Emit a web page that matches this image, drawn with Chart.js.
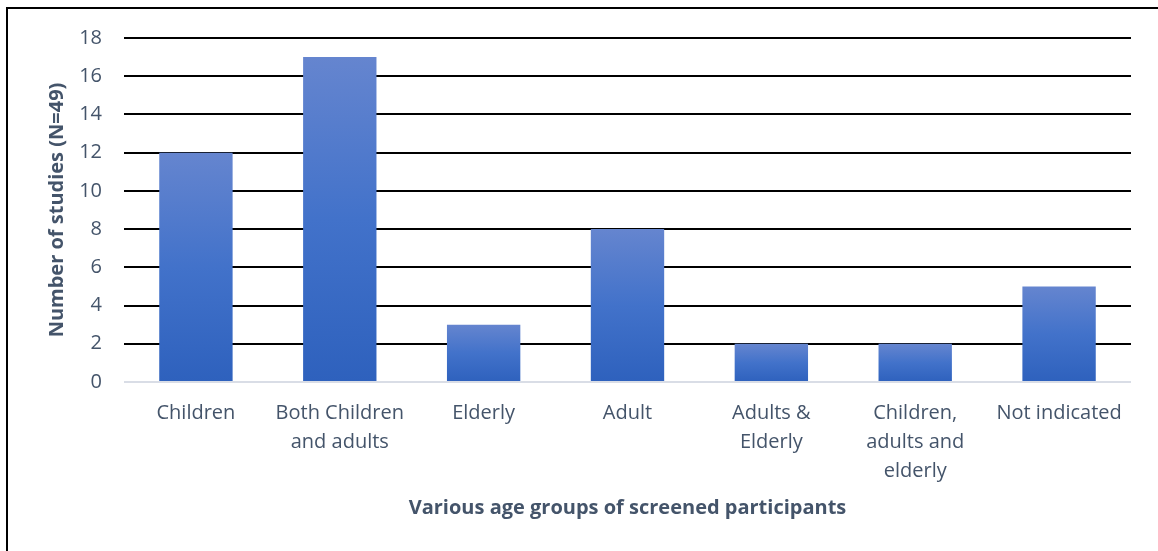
<!DOCTYPE html>
<html>
<head>
<meta charset="utf-8">
<script src="https://cdn.jsdelivr.net/npm/chart.js@4/dist/chart.umd.min.js"></script>
<style>
  html, body { margin: 0; padding: 0; background: #fff; }
  #wrap { position: relative; width: 1158px; height: 551px; overflow: hidden; }
  #frame { position: absolute; left: 6px; top: 7px; width: 1200px; height: 600px;
           border-top: 2px solid #000; border-left: 2px solid #000; }
  canvas { position: absolute; left: 0; top: 0; }
</style>
</head>
<body>
<div id="wrap">
  <div id="frame"></div>
  <canvas id="c" width="1158" height="551"></canvas>
</div>
<script>
const categories = [
  ['Children'],
  ['Both Children', 'and adults'],
  ['Elderly'],
  ['Adult'],
  ['Adults &', 'Elderly'],
  ['Children,', 'adults and', 'elderly'],
  ['Not indicated']
];
const studyCounts = [12, 17, 3, 8, 2, 2, 5];
const yTicks = [0, 2, 4, 6, 8, 10, 12, 14, 16, 18];

const TEXT = '#44546a';
const FONT = '"Open Sans", Lato, sans-serif';

// vertical gradient per bar: lighter at the top, deeper blue at the base
function barFill(ctx) {
  const chart = ctx.chart;
  const y = chart.scales.y;
  if (!y || ctx.parsed === undefined) return '#4472c4';
  const top = y.getPixelForValue(ctx.parsed.y);
  const base = y.getPixelForValue(0);
  if (!isFinite(top) || !isFinite(base) || top === base) return '#4472c4';
  const g = chart.ctx.createLinearGradient(0, top, 0, base);
  g.addColorStop(0, '#6585cf');
  g.addColorStop(0.5, '#4272ca');
  g.addColorStop(1, '#2e61bd');
  return g;
}

new Chart(document.getElementById('c'), {
  type: 'bar',
  data: {
    labels: categories,
    datasets: [{
      label: 'Number of studies',
      data: studyCounts,
      backgroundColor: barFill,
      borderWidth: 0,
      barPercentage: 0.51,
      categoryPercentage: 1
    }]
  },
  options: {
    responsive: false,
    devicePixelRatio: 1,
    animation: false,
    layout: { padding: { left: 0, top: 38, right: 27, bottom: 0 } },
    plugins: { legend: { display: false }, tooltip: { enabled: false } },
    scales: {
      x: {
        grid: { display: false, drawTicks: false },
        border: { display: false },
        ticks: {
          color: TEXT,
          padding: 17,
          maxRotation: 0,
          autoSkip: false,
          font: { family: FONT, size: 20, lineHeight: 1.45 }
        },
        title: {
          display: true,
          text: 'Various age groups of screened participants',
          color: TEXT,
          font: { family: FONT, size: 20, weight: 'bold', lineHeight: 1.2 },
          padding: { top: 0, bottom: 31 }
        },
        afterFit: (s) => { s.height = 169; }
      },
      y: {
        min: 0,
        max: 18,
        afterBuildTicks: (s) => { s.ticks = yTicks.map(v => ({ value: v })); },
        grid: {
          drawTicks: false,
          lineWidth: 2,
          color: (c) => (c.tick && c.tick.value === 0) ? '#d9dde6' : '#000000'
        },
        border: { display: false },
        ticks: {
          color: TEXT,
          padding: 22,
          font: { family: FONT, size: 20 }
        },
        title: {
          display: true,
          text: 'Number of studies (N=49)',
          color: TEXT,
          font: { family: FONT, size: 20, weight: 'bold', lineHeight: 1.2 },
          padding: { top: 45, bottom: 0 }
        },
        afterFit: (s) => { s.width = 124; }
      }
    }
  }
});
</script>
</body>
</html>
